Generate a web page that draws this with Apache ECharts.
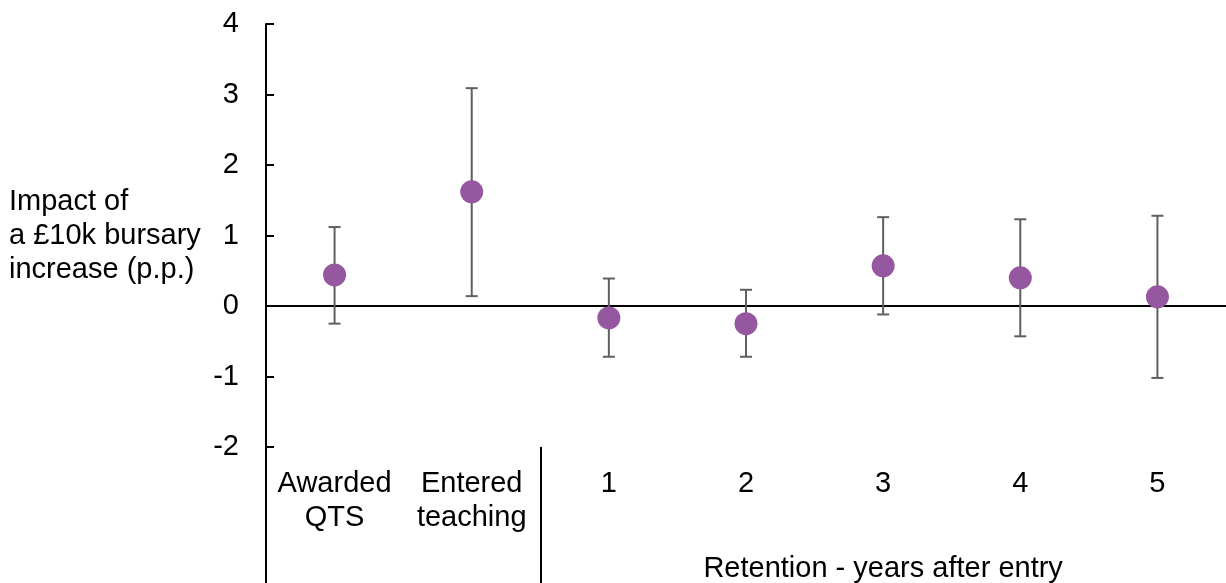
<!DOCTYPE html>
<html>
<head>
<meta charset="utf-8">
<script src="https://cdn.jsdelivr.net/npm/echarts@6/dist/echarts.min.js"></script>
<style>html,body{margin:0;padding:0;background:#fff}#c{width:1226px;height:583px}</style>
</head>
<body>
<div id="c"></div>
<script>
var categories = ['Awarded\nQTS', 'Entered\nteaching', '1', '2', '3', '4', '5'];
var estimates = [0.44, 1.62, -0.17, -0.25, 0.57, 0.40, 0.13];
var lowerCI = [-0.25, 0.14, -0.72, -0.72, -0.12, -0.43, -1.02];
var upperCI = [1.12, 3.09, 0.39, 0.23, 1.26, 1.23, 1.28];
var yTicks = [-2, -1, 0, 1, 2, 3, 4];
var groupLabel = 'Retention - years after entry';
var groupCenterIndex = 4;
var separatorsAfter = [-0.5, 1.5];
var yName = 'Impact of\na £10k bursary\nincrease (p.p.)';

var font = 'Liberation Sans, Arial, sans-serif';
var fs = 29;
var idx = categories.map(function (c, i) { return i; });
var errData = categories.map(function (c, i) { return [i, lowerCI[i], upperCI[i]]; });

var chart = echarts.init(document.getElementById('c'));
chart.setOption({
  animation: false,
  grid: { left: 266, right: 0, top: 24, bottom: 136 },
  xAxis: [
    {
      type: 'category', data: categories, boundaryGap: true,
      axisLine: { show: true, onZero: true, lineStyle: { color: '#000', width: 2 } },
      axisTick: { show: false }, axisLabel: { show: false }, splitLine: { show: false }
    },
    {
      type: 'value', min: -0.5, max: categories.length - 0.5, position: 'bottom',
      axisLine: { show: false, onZero: false },
      splitLine: { show: false },
      axisTick: {
        show: true, length: 136, customValues: separatorsAfter,
        lineStyle: { color: '#000', width: 2 }
      },
      axisLabel: {
        customValues: idx, margin: 20, color: '#000', fontFamily: font, fontSize: fs, lineHeight: 34,
        formatter: function (v) { return categories[Math.round(v)]; }
      }
    },
    {
      type: 'value', min: -0.5, max: categories.length - 0.5, position: 'bottom',
      axisLine: { show: false, onZero: false }, axisTick: { show: false },
      splitLine: { show: false },
      axisLabel: {
        customValues: [groupCenterIndex], margin: 107, color: '#000', fontFamily: font, fontSize: fs,
        formatter: function () { return groupLabel; }
      }
    }
  ],
  yAxis: {
    type: 'value', min: yTicks[0], max: yTicks[yTicks.length - 1], interval: 1,
    name: yName, nameLocation: 'middle', nameRotate: 0, nameGap: 257,
    nameTextStyle: { align: 'left', color: '#000', fontFamily: font, fontSize: fs, lineHeight: 34 },
    axisLine: { show: true, onZero: false, lineStyle: { color: '#000', width: 2 } },
    axisTick: { show: true, inside: true, length: 8, lineStyle: { color: '#000', width: 2 } },
    axisLabel: { margin: 27, color: '#000', fontFamily: font, fontSize: fs },
    splitLine: { show: false }
  },
  series: [
    {
      type: 'custom', xAxisIndex: 0, data: errData, z: 2,
      encode: { x: 0, y: [1, 2] },
      renderItem: function (params, api) {
        var x = api.value(0);
        var lo = api.coord([x, api.value(1)]);
        var hi = api.coord([x, api.value(2)]);
        var hw = 6;
        var st = { stroke: '#5f5f5f', lineWidth: 2 };
        return {
          type: 'group', children: [
            { type: 'line', shape: { x1: hi[0], y1: hi[1], x2: lo[0], y2: lo[1] }, style: st },
            { type: 'line', shape: { x1: hi[0] - hw, y1: hi[1], x2: hi[0] + hw, y2: hi[1] }, style: st },
            { type: 'line', shape: { x1: lo[0] - hw, y1: lo[1], x2: lo[0] + hw, y2: lo[1] }, style: st }
          ]
        };
      }
    },
    {
      type: 'scatter', xAxisIndex: 0, data: estimates, z: 5,
      symbol: 'circle', symbolSize: 23,
      itemStyle: { color: '#9558A0', opacity: 1 }
    }
  ]
});
</script>
</body>
</html>
